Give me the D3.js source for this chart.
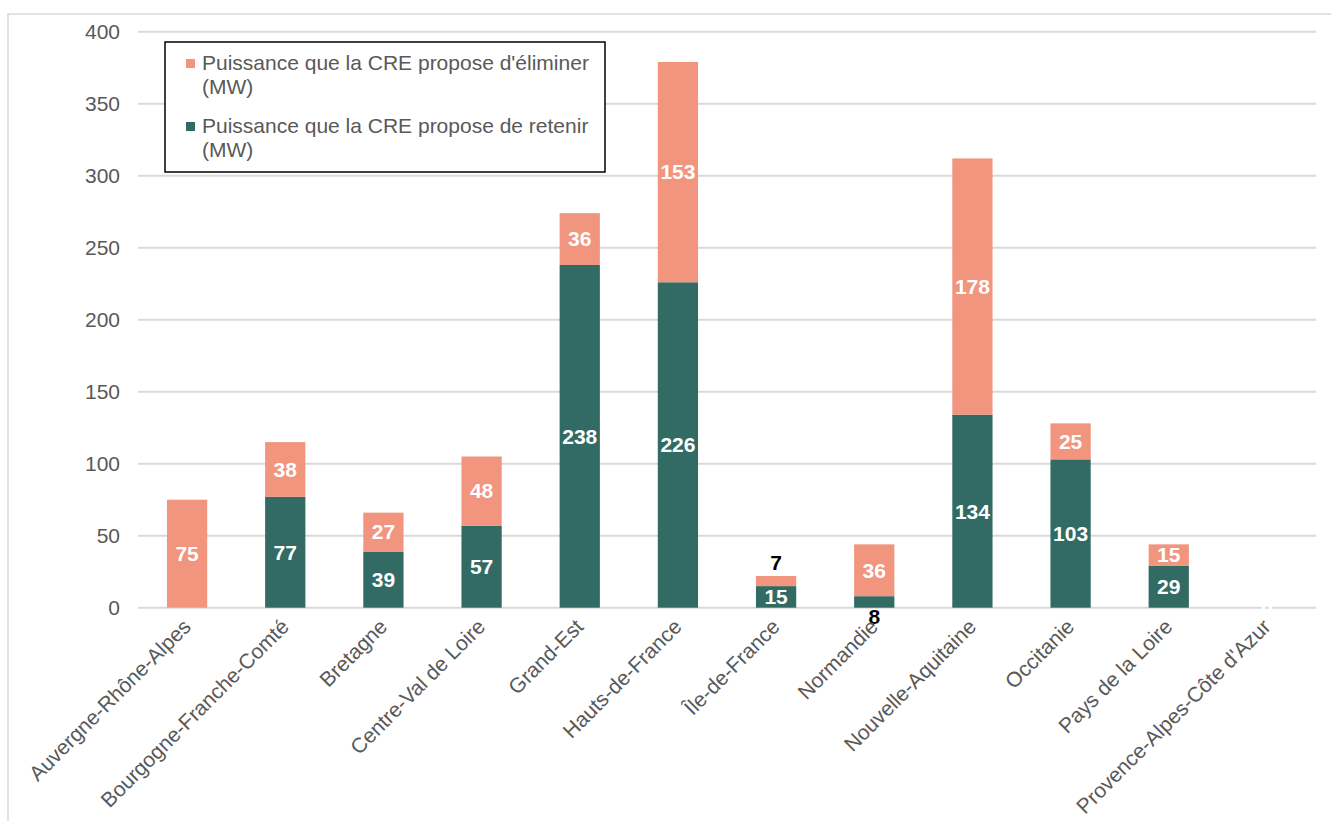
<!DOCTYPE html>
<html>
<head>
<meta charset="utf-8">
<script src="https://cdn.jsdelivr.net/npm/d3@7"></script>
<style>
  html, body { margin: 0; padding: 0; background: #fff; }
  svg { display: block; font-family: "Liberation Sans", Arial, sans-serif; }
</style>
</head>
<body>
<svg id="chart" width="1331" height="821"></svg>
<script>
const categories = ["Auvergne-Rhône-Alpes", "Bourgogne-Franche-Comté", "Bretagne", "Centre-Val de Loire",
  "Grand-Est", "Hauts-de-France", "Île-de-France", "Normandie", "Nouvelle-Aquitaine",
  "Occitanie", "Pays de la Loire", "Provence-Alpes-Côte d'Azur"];
const retained   = [null, 77, 39, 57, 238, 226, 15, 8, 134, 103, 29, 0];
const eliminated = [75, 38, 27, 48, 36, 153, 7, 36, 178, 25, 15, 0];
const seriesNames = ["Puissance que la CRE propose d'éliminer (MW)", "Puissance que la CRE propose de retenir (MW)"];
const yTicks = [0, 50, 100, 150, 200, 250, 300, 350, 400];

const colElim = "#F1957F", colRet = "#316B63";
const grid = "#d9d9d9", textCol = "#595959";
const fs = 21;

const svg = d3.select("#chart");

// outer frame
svg.append("rect").attr("x", 8).attr("y", 14).attr("width", 1340).attr("height", 830)
  .attr("fill", "none").attr("stroke", grid).attr("stroke-width", 1.5);

const x = d3.scaleBand().domain(categories).range([138, 1316]).paddingInner(0.59).paddingOuter(0.295);
const y = d3.scaleLinear().domain([0, 400]).range([607.7, 31.7]);

// gridlines + y axis labels
const yAxis = d3.axisLeft(y).tickValues(yTicks).tickSize(0).tickPadding(18);
const gy = svg.append("g").attr("transform", "translate(138,0)").call(yAxis);
gy.select(".domain").remove();
gy.selectAll("text").attr("font-size", fs).attr("fill", textCol).attr("font-family", "Liberation Sans, Arial, sans-serif");
svg.append("g").selectAll("line").data(yTicks).join("line")
  .attr("x1", 138).attr("x2", 1316).attr("y1", d => y(d)).attr("y2", d => y(d))
  .attr("stroke", grid).attr("stroke-width", 2);

// bars
const rows = categories.map((c, i) => ({ c, r: retained[i], e: eliminated[i] }));
const gb = svg.append("g");
rows.forEach(d => {
  const r = d.r || 0;
  if (r > 0) gb.append("rect").attr("x", x(d.c)).attr("width", x.bandwidth())
    .attr("y", y(r)).attr("height", y(0) - y(r)).attr("fill", colRet);
  if (d.e > 0) gb.append("rect").attr("x", x(d.c)).attr("width", x.bandwidth())
    .attr("y", y(r + d.e)).attr("height", y(r) - y(r + d.e)).attr("fill", colElim);
});

// value labels
const gl = svg.append("g").attr("font-size", fs).attr("font-weight", "bold").attr("text-anchor", "middle");
rows.forEach(d => {
  const cx = x(d.c) + x.bandwidth() / 2;
  const r = d.r || 0;
  if (d.r !== null) {
    const h = y(0) - y(r);
    if (h >= 20 || r === 0) {
      gl.append("text").attr("x", cx).attr("y", (y(0) + y(r)) / 2).attr("dy", "0.35em").attr("fill", "#fff").text(d.r);
    } else {
      gl.append("text").attr("x", cx).attr("y", y(0) + 9).attr("dy", "0.35em").attr("fill", "#000").text(d.r);
    }
  }
  if (d.e !== null) {
    const h = y(r) - y(r + d.e);
    if (h >= 20 || d.e === 0) {
      gl.append("text").attr("x", cx).attr("y", (y(r) + y(r + d.e)) / 2).attr("dy", "0.35em").attr("fill", "#fff").text(d.e);
    } else {
      gl.append("text").attr("x", cx).attr("y", y(r + d.e) - 13).attr("dy", "0.35em").attr("fill", "#000").text(d.e);
    }
  }
});

// category labels
const gx = svg.append("g").attr("font-size", fs).attr("fill", textCol).attr("text-anchor", "end");
categories.forEach(c => {
  const cx = x(c) + x.bandwidth() / 2 + 5;
  gx.append("text").attr("transform", `translate(${cx},628) rotate(-45)`).text(c);
});

// legend
const lg = svg.append("g");
lg.append("rect").attr("x", 165).attr("y", 42).attr("width", 440).attr("height", 130)
  .attr("fill", "#fff").attr("stroke", "#000").attr("stroke-width", 1.5);
const legendItems = [{ name: seriesNames[0], col: colElim }, { name: seriesNames[1], col: colRet }];
legendItems.forEach((it, i) => {
  const by = 70 + i * 63;
  lg.append("rect").attr("x", 186).attr("y", by - 11).attr("width", 9).attr("height", 9).attr("fill", it.col);
  const parts = it.name.split(" (");
  const t = lg.append("text").attr("font-size", fs).attr("fill", textCol);
  t.append("tspan").attr("x", 202).attr("y", by).text(parts[0]);
  t.append("tspan").attr("x", 202).attr("y", by + 24).text("(" + parts[1]);
});
</script>
</body>
</html>
